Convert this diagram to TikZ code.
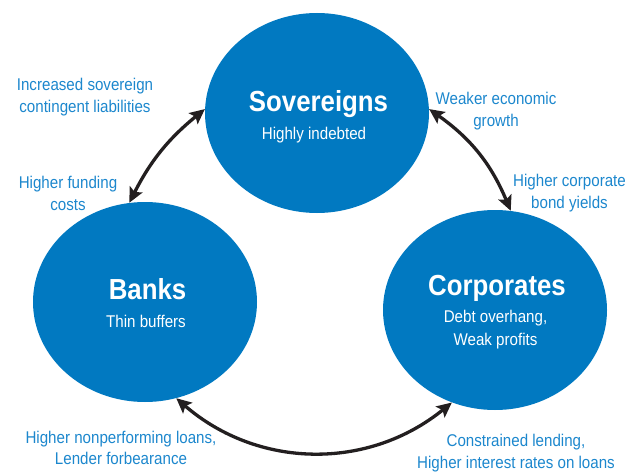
\documentclass[tikz,border=0pt]{standalone}
\usepackage{fontspec}
\setmainfont{Liberation Sans}[FakeStretch=0.89]
\usetikzlibrary{shapes.geometric,arrows.meta,positioning}

\definecolor{ovalblue}{HTML}{0179C1}
\definecolor{labelblue}{HTML}{1C87CD}
\definecolor{arrowdark}{HTML}{231F20}

\tikzset{
  oval/.style={ellipse,fill=ovalblue,draw=none,minimum width=224pt,minimum height=200pt,inner sep=0pt},
  title/.style={text=white,font=\fontsize{29}{34}\selectfont\bfseries,anchor=base,inner sep=0pt},
  subtitle/.style={text=white,font=\fontsize{17}{23}\selectfont,anchor=base,inner sep=0pt,align=center},
  effect/.style={text=labelblue,font=\fontsize{17}{21.5}\selectfont,align=center,inner sep=0pt},
  link/.style={arrowdark,line width=3.3pt,
    {Stealth[length=15pt,width=14pt,inset=3pt]}-{Stealth[length=15pt,width=14pt,inset=3pt]}}
}

\begin{document}
\begin{tikzpicture}[x=1pt,y=1pt]
  \useasboundingbox (0,0) rectangle (628,472);

  % 三个椭圆的中心
  \def\Sx{317} \def\Sy{359}
  \def\Bx{145} \def\By{170}
  \def\Cx{495} \def\Cy{162}

  % 椭圆
  \node[oval] (sov)   at (\Sx,\Sy) {};
  \node[oval] (banks) at (\Bx,\By) {};
  \node[oval] (corp)  at (\Cx,\Cy) {};

  % 椭圆里的文字（多行时 base 在最后一行）
  \node[title]    (sovname)   at (318.5,360) {Sovereigns};
  \node[subtitle] (sovnote)   at (314,333)   {Highly indebted};
  \node[title]    (banksname) at (147.5,173) {Banks};
  \node[subtitle] (banksnote) at (146,145)   {Thin buffers};
  \node[title]    (corpname)  at (497,177)   {Corporates};
  \node[subtitle] (corpnote)  at (495.5,127) {Debt overhang,\\Weak profits};

  % 双向箭头
  \draw[link] (banks.99) to[bend left=12] (sov.178);
  \draw[link] (sov.2)    to[bend left=16] (corp.81);
  \draw[link] (corp.245) to[bend left=40] (banks.288);

  % 外侧说明
  \node[effect] (sovliab)  at (85,375)    {Increased sovereign\\contingent liabilities};
  \node[effect] (funding)  at (68,278.5)  {Higher funding\\costs};
  \node[effect] (growth)   at (496,361)   {Weaker economic\\growth};
  \node[effect] (bondyld)  at (569.5,279) {Higher corporate\\bond yields};
  \node[effect] (npl)      at (121,24)    {Higher nonperforming loans,\\Lender forbearance};
  \node[effect] (lending)  at (516,19)    {Constrained lending,\\Higher interest rates on loans};
\end{tikzpicture}
\end{document}
